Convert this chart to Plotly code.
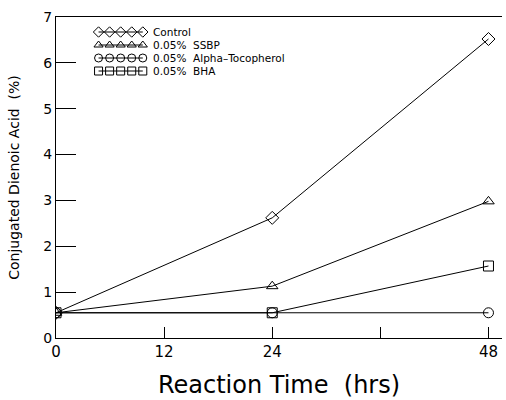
import plotly.graph_objects as go

hours = [0, 24, 48]
control = [0.55, 2.62, 6.52]
ssbp = [0.55, 1.13, 2.98]
tocopherol = [0.55, 0.55, 0.55]
bha = [0.55, 0.55, 1.57]

series_names = ["Control", "0.05%  SSBP", "0.05%  Alpha\u2013Tocopherol", "0.05%  BHA"]
series_values = [control, ssbp, tocopherol, bha]
symbols = ["diamond-open", "triangle-up-open", "circle-open", "square-open"]

x_tickvals = [0, 12, 24, 36, 48]
x_ticktext = ["0", "12", "24", "", "48"]
y_tickvals = [0, 1, 2, 3, 4, 5, 6, 7]

font_family = "DejaVu Sans, Liberation Sans, sans-serif"

fig = go.Figure()
for name, vals, sym in zip(series_names, series_values, symbols):
    fig.add_trace(go.Scatter(
        x=hours, y=vals, name=name, mode="lines+markers", showlegend=False,
        line=dict(color="black", width=1),
        marker=dict(symbol=sym, size=10, color="black", line=dict(color="black", width=1)),
    ))

# Legend drawn in the style of the original: a row of five symbols per series
legend_slots = [0, 1, 2, 3, 4]
for row, (name, sym) in enumerate(zip(series_names, symbols)):
    fig.add_trace(go.Scatter(
        x=legend_slots, y=[row] * len(legend_slots), mode="lines+markers",
        xaxis="x2", yaxis="y2", showlegend=False, hoverinfo="skip",
        line=dict(color="black", width=1),
        marker=dict(symbol=sym, size=8, color="black", line=dict(color="black", width=1)),
    ))
    fig.add_annotation(
        x=0.216, xref="paper", y=row, yref="y2", text=name, showarrow=False,
        xanchor="left", yanchor="middle", borderpad=0,
        font=dict(size=10.5, family=font_family, color="black"),
    )

fig.update_layout(
    width=506, height=400,
    margin=dict(l=56, r=4, t=17, b=62),
    paper_bgcolor="white", plot_bgcolor="white",
    font=dict(family=font_family, color="black"),
    showlegend=False,
    xaxis=dict(
        range=[0, 49.5], tickvals=x_tickvals, ticktext=x_ticktext,
        ticks="inside", ticklen=11, tickcolor="black", tickwidth=1,
        showline=True, linecolor="black", linewidth=1, mirror=True,
        showgrid=False, zeroline=False, automargin=False,
        tickfont=dict(size=15, family=font_family),
        title=dict(text="Reaction Time  (hrs)", font=dict(size=24, family=font_family), standoff=16),
    ),
    yaxis=dict(
        range=[0, 7], tickvals=y_tickvals,
        ticks="inside", ticklen=20, tickcolor="black", tickwidth=1,
        showline=True, linecolor="black", linewidth=1, mirror=False,
        showgrid=False, zeroline=False, automargin=False,
        tickfont=dict(size=14, family=font_family),
        title=dict(text="Conjugated Dienoic Acid  (%)", font=dict(size=14, family=font_family), standoff=20),
    ),
    xaxis2=dict(domain=[0.083, 0.207], range=[-0.5, 4.5], anchor="y2", visible=False, fixedrange=True),
    yaxis2=dict(domain=[0.8115, 0.9735], range=[3.5, -0.5], anchor="x2", visible=False, fixedrange=True),
)

fig.write_html("out.html", post_script="document.body.style.margin='0';",
               config={"displayModeBar": False})
